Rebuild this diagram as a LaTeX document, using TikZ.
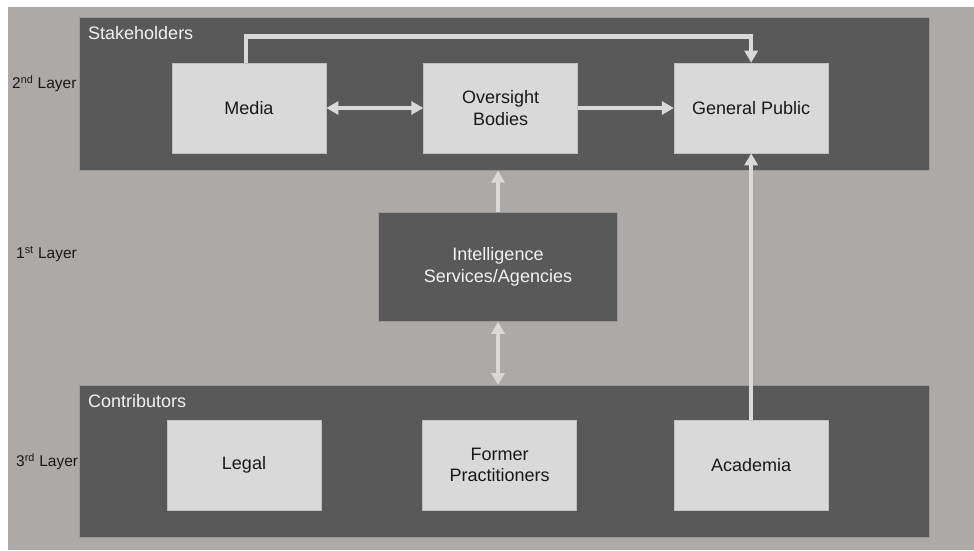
\documentclass[tikz,border=0pt]{standalone}
\usepackage{fontspec}
\setmainfont{Liberation Sans}
\usepackage{xcolor}
\usepackage{tikz}
\usetikzlibrary{arrows.meta, positioning}
\definecolor{canvascol}{RGB}{173,169,167}
\definecolor{layercol}{RGB}{89,89,89}
\definecolor{boxcol}{RGB}{217,217,217}
\definecolor{flowcol}{RGB}{217,217,217}

\begin{document}
\begin{tikzpicture}[
  x=1pt, y=-1pt,
  >={Triangle[length=12pt, width=13pt]},
  layer/.style={draw=black!40, line width=0.6pt, fill=layercol, inner sep=0pt},
  box/.style={draw=black!25, line width=0.6pt, fill=boxcol, inner sep=0pt,
              minimum width=154pt, minimum height=90pt, align=center,
              text=black!90, font=\fontsize{18}{21.6}\selectfont},
  agency/.style={box, draw=black!40, fill=layercol, text=white!95!black,
                 minimum width=239pt, minimum height=109pt},
  title/.style={anchor=base west, inner sep=0pt, text=white!95!black,
                font=\fontsize{18}{21.6}\selectfont},
  level/.style={anchor=west, inner sep=0pt, text=black!90,
                font=\fontsize{15.5}{18}\selectfont},
  flow/.style={draw=flowcol, line width=4.5pt}
]
  \useasboundingbox (0,0) rectangle (974,550);
  \fill[canvascol] (8,7) rectangle (974,550);

  % layer containers
  \node[layer, anchor=north west, minimum width=850pt, minimum height=153pt] (stake) at (79,17) {};
  \node[layer, anchor=north west, minimum width=850pt, minimum height=152pt] (contrib) at (79,385) {};
  \node[title] (staketitle) at (88,39) {Stakeholders};
  \node[title] (contribtitle) at (88,407) {Contributors};

  % 2nd layer
  \node[box] (media) at (249,108) {Media};
  \node[box, right=97pt of media] (oversight) {Oversight\\Bodies};
  \node[box, right=96pt of oversight] (public) {General Public};

  % 1st layer
  \node[agency] (agencies) at (498,267) {Intelligence\\Services/Agencies};

  % 3rd layer
  \node[box] (legal) at (244,465) {Legal};
  \node[box, right=101pt of legal] (former) {Former\\Practitioners};
  \node[box, right=97pt of former] (academia) {Academia};

  \node[level] (lvltwo) at (12,84) {2\textsuperscript{nd} Layer};
  \node[level] (lvlone) at (16,254) {1\textsuperscript{st} Layer};
  \node[level] (lvlthree) at (16,462) {3\textsuperscript{rd} Layer};

  \draw[flow, <->] (media) -- (oversight);
  \draw[flow, ->] (oversight) -- (public);
  \draw[flow, ->] ([xshift=-3pt]media.north) |- ([yshift=26pt]public.north) -- (public.north);
  \draw[flow, ->] (agencies.north) -- (agencies.north |- stake.south);
  \draw[flow, <->] (agencies.south) -- (agencies.south |- contrib.north);
  \draw[flow, ->] (academia.north) -- (public.south);
\end{tikzpicture}
\end{document}
